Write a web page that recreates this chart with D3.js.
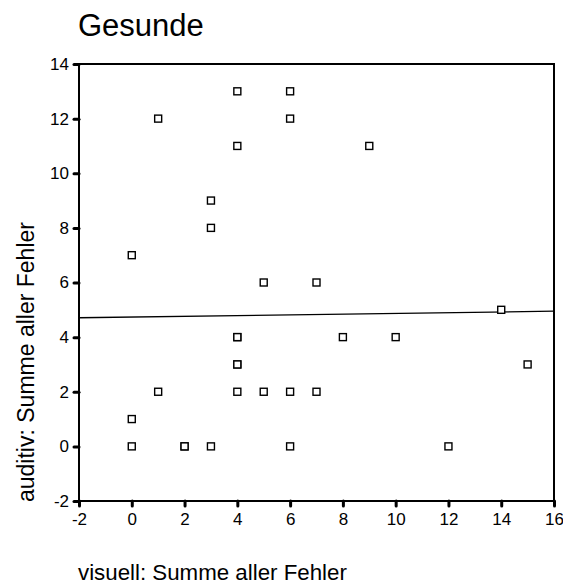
<!DOCTYPE html>
<html>
<head>
<meta charset="utf-8">
<script src="https://cdn.jsdelivr.net/npm/d3@7"></script>
<style>
  body { margin: 0; background: #fff; }
  text { font-family: Arial, 'Liberation Sans', sans-serif; fill: #000; }
</style>
</head>
<body>
<script>
// daten
const visuell = [1, 4, 6, 6, 4, 9, 3, 3, 0, 5, 7, 14, 4, 4, 8, 10, 4, 4, 15, 1, 4, 5, 6, 7, 0, 0, 2, 2, 3, 6, 12];
const auditiv = [12, 13, 13, 12, 11, 11, 9, 8, 7, 6, 6, 5, 4, 4, 4, 4, 3, 3, 3, 2, 2, 2, 2, 2, 1, 0, 0, 0, 0, 0, 0];
const fitX = [-2, 16];
const fitY = [4.71, 4.95];
const xTicks = [-2, 0, 2, 4, 6, 8, 10, 12, 14, 16];
const yTicks = [-2, 0, 2, 4, 6, 8, 10, 12, 14];

const W = 563, H = 587;
const pLeft = 79, pRight = 554, pTop = 64, pBottom = 501;

let svg = d3.select('body').append('svg')
  .attr('width', W)
  .attr('height', H);

let x = d3.scaleLinear().domain([-2, 16]).range([pLeft, pRight]);
let y = d3.scaleLinear().domain([-2, 14]).range([pBottom, pTop]);

// titel
svg.append('text')
  .attr('x', 78)
  .attr('y', 36)
  .style('font-size', '31px')
  .text('Gesunde');

// rahmen
svg.append('rect')
  .attr('x', pLeft)
  .attr('y', pTop)
  .attr('width', pRight - pLeft)
  .attr('height', pBottom - pTop)
  .attr('fill', 'none')
  .attr('stroke', '#000')
  .attr('stroke-width', 2);

// achsen (bindestrich statt minuszeichen wie im original)
let fmt = d => String(d);

let xAxis = svg.append('g')
  .attr('transform', 'translate(0,' + pBottom + ')')
  .call(d3.axisBottom(x).tickValues(xTicks).tickSize(5).tickPadding(5).tickFormat(fmt));

let yAxis = svg.append('g')
  .attr('transform', 'translate(' + pLeft + ',0)')
  .call(d3.axisLeft(y).tickValues(yTicks).tickSize(5).tickPadding(5).tickFormat(fmt));

[xAxis, yAxis].forEach(ax => {
  ax.attr('font-size', 17).attr('font-family', 'Arial, "Liberation Sans", sans-serif');
  ax.select('.domain').remove();
  ax.selectAll('.tick line')
    .attr('stroke', '#000')
    .attr('stroke-width', 3)
    .attr('stroke-linecap', 'round');
  ax.selectAll('.tick text')
    .style('font-size', '17px')
    .attr('fill', '#000');
});
xAxis.selectAll('.tick text').attr('dy', '0.8em');

// regressionslinie
svg.append('line')
  .attr('x1', x(fitX[0]))
  .attr('y1', y(fitY[0]))
  .attr('x2', x(fitX[1]))
  .attr('y2', y(fitY[1]))
  .attr('stroke', '#000')
  .attr('stroke-width', 1.3);

// punkte
let pts = visuell.map((v, i) => ({ v: v, a: auditiv[i] }));
svg.selectAll('rect.pt')
  .data(pts)
  .enter()
  .append('rect')
  .attr('class', 'pt')
  .attr('x', d => x(d.v) - 3.5)
  .attr('y', d => y(d.a) - 3.5)
  .attr('width', 7)
  .attr('height', 7)
  .attr('fill', '#fff')
  .attr('stroke', '#000')
  .attr('stroke-width', 1.4);

// achsenbeschriftungen
svg.append('text')
  .attr('x', 78)
  .attr('y', 580)
  .style('font-size', '22.3px')
  .text('visuell: Summe aller Fehler');

svg.append('text')
  .attr('transform', 'translate(34,502) rotate(-90)')
  .style('font-size', '23px')
  .text('auditiv: Summe aller Fehler');
</script>
</body>
</html>
